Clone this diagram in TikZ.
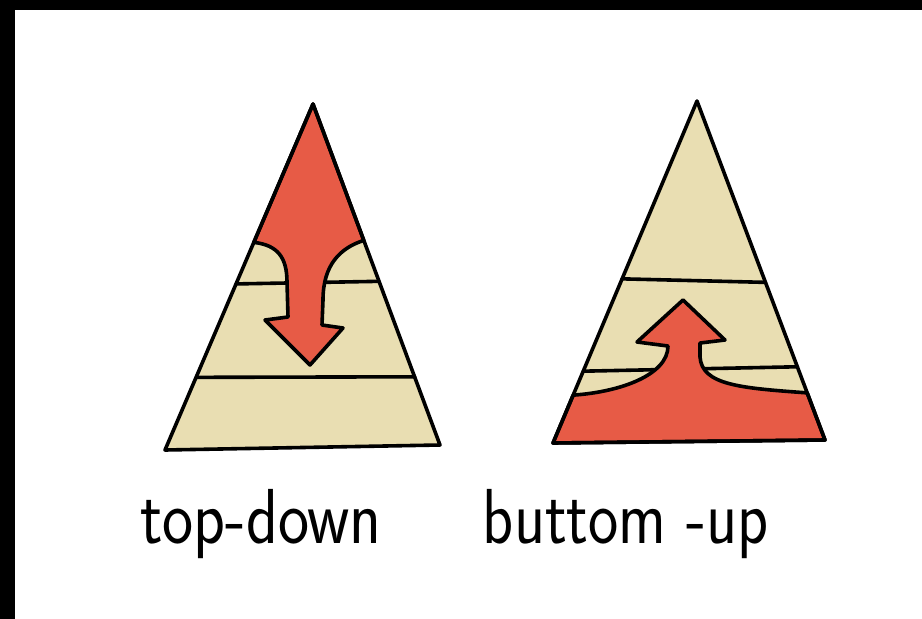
\documentclass[tikz,border=0pt]{standalone}
\usepackage{graphicx}
\usepackage{tikz}
\usetikzlibrary{calc}
\definecolor{pyrtan}{RGB}{233,222,178}
\definecolor{pyrred}{RGB}{231,91,70}

\begin{document}
\begin{tikzpicture}[x=1pt, y=-1pt, line join=round, line cap=round,
  ink/.style={line width=3.6pt, black},
  handtext/.style={font=\sffamily\fontsize{60}{60}\selectfont, anchor=base, inner sep=0pt}]
  \useasboundingbox (0,0) rectangle (922,619);
  \fill[white] (0,0) rectangle (922,619);

  % Frame edges
  \fill[black] (0,0) rectangle (922,10);
  \fill[black] (0,0) rectangle (15,619);

  % Top-down pyramid
  \coordinate (LA) at (313,104);
  \coordinate (LL) at (165,450);
  \coordinate (LR) at (440,445);
  \fill[pyrtan] (LA) -- (LR) -- (LL) -- cycle;
  \draw[ink] ($(LA)!0.52!(LL)$) -- ($(LA)!0.52!(LR)$);
  \draw[ink] ($(LA)!0.79!(LL)$) -- ($(LA)!0.80!(LR)$);

  % Arrow coming down from the apex
  \coordinate (LS) at ($(LA)!0.4!(LL)$);
  \coordinate (LE) at ($(LA)!0.4!(LR)$);
  \filldraw[ink, fill=pyrred] (LS) .. controls (278,245) and (287,258) .. (287,282)
    -- (288,317) -- (265,320) -- (310,365) -- (343,328) -- (322,325) -- (323,300)
    .. controls (323,265) and (340,248) .. (LE) -- (LA) -- cycle;
  \draw[ink] (LA) -- (LR) -- (LL) -- cycle;

  % Bottom-up pyramid
  \coordinate (RA) at (697,101);
  \coordinate (RL) at (553,443);
  \coordinate (RR) at (825,440);
  \fill[pyrtan] (RA) -- (RR) -- (RL) -- cycle;
  \draw[ink] ($(RA)!0.52!(RL)$) -- ($(RA)!0.535!(RR)$);
  \draw[ink] ($(RA)!0.79!(RL)$) -- ($(RA)!0.784!(RR)$);

  % Arrow rising from the base
  \coordinate (RS) at ($(RA)!0.86!(RL)$);
  \coordinate (RE) at ($(RA)!0.861!(RR)$);
  \filldraw[ink, fill=pyrred] (RS) .. controls (620,392) and (668,375) .. (668,346)
    -- (637,342) -- (683,300) -- (725,340) -- (700,343) -- (700,357)
    .. controls (702,385) and (740,388) .. (RE) -- (RR) -- (RL) -- cycle;
  \draw[ink] (RA) -- (RR) -- (RL) -- cycle;

  % Captions
  \node[handtext] (topdown) at (261,543) {\scalebox{1.1}[1.3]{top-down}};
  \node[handtext] (bottomup) at (626,543) {\scalebox{1.07}[1.3]{buttom -up}};
\end{tikzpicture}
\end{document}
